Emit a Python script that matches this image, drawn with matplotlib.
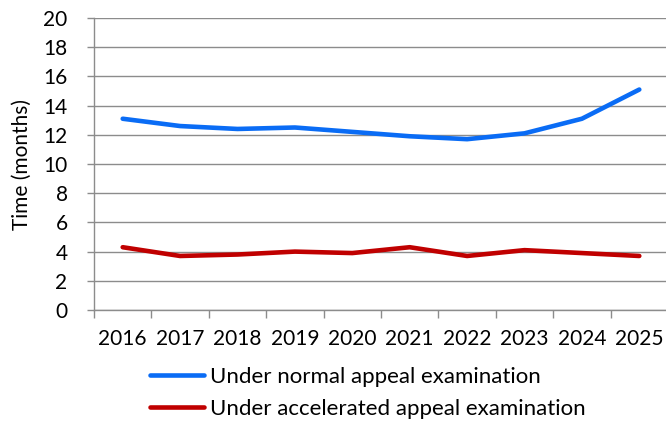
import numpy as np
import matplotlib.pyplot as plt
from matplotlib.lines import Line2D

years = ['2016', '2017', '2018', '2019', '2020', '2021', '2022', '2023', '2024', '2025']
normal = [13.1, 12.6, 12.4, 12.5, 12.2, 11.9, 11.7, 12.1, 13.1, 15.1]
accelerated = [4.3, 3.7, 3.8, 4.0, 3.9, 4.3, 3.7, 4.1, 3.9, 3.7]
series_names = ['Under normal appeal examination', 'Under accelerated appeal examination']

plt.rcParams['font.family'] = ['Lato', 'DejaVu Sans']
fs = 15
blue = '#0A6CF5'
red = '#C00000'
grey = '#8C8C8C'

fig = plt.figure(figsize=(6.66, 4.24), dpi=100)
# plot area: y axis at x=94px, 10 categories of ~57.4px, from y=18px to y=310px
ax = fig.add_axes([94 / 666, 1 - 310 / 424, 574 / 666, (310 - 18) / 424])

x = np.arange(len(years))
ax.plot(x, normal, color=blue, lw=3.3, solid_capstyle='round', label=series_names[0])
ax.plot(x, accelerated, color=red, lw=3.3, solid_capstyle='round', label=series_names[1])

ax.set_xlim(-0.5, len(years) - 0.5)
ax.set_ylim(0, 20)
ax.set_yticks(np.arange(0, 21, 2))
ax.yaxis.grid(True, color=grey, lw=1.0)
ax.set_axisbelow(True)

# category labels in the middle, tick marks on boundaries
ax.set_xticks(x)
ax.set_xticklabels(years, fontsize=fs)
ax.tick_params(axis='x', which='major', length=0, pad=14)
ax.set_xticks(np.arange(-0.5, len(years)), minor=True)
ax.tick_params(axis='x', which='minor', length=6, color=grey, width=1)
ax.tick_params(axis='y', length=5, color=grey, width=1, labelsize=fs, pad=14)

for s in ['top', 'right']:
    ax.spines[s].set_visible(False)
for s in ['left', 'bottom']:
    ax.spines[s].set_color(grey)
    ax.spines[s].set_linewidth(1.0)

ax.set_ylabel('Time (months)', fontsize=fs, labelpad=8)

handles = [Line2D([], [], color=blue, lw=3.3, solid_capstyle='round'),
           Line2D([], [], color=red, lw=3.3, solid_capstyle='round')]
fig.legend(handles, series_names, loc='upper left', bbox_to_anchor=(150 / 666, 1 - 367 / 424),
           frameon=False, fontsize=16, handlelength=2.45, handletextpad=0.25, labelspacing=0.55,
           borderaxespad=0, borderpad=0)

fig.savefig('out.png', dpi=100)
